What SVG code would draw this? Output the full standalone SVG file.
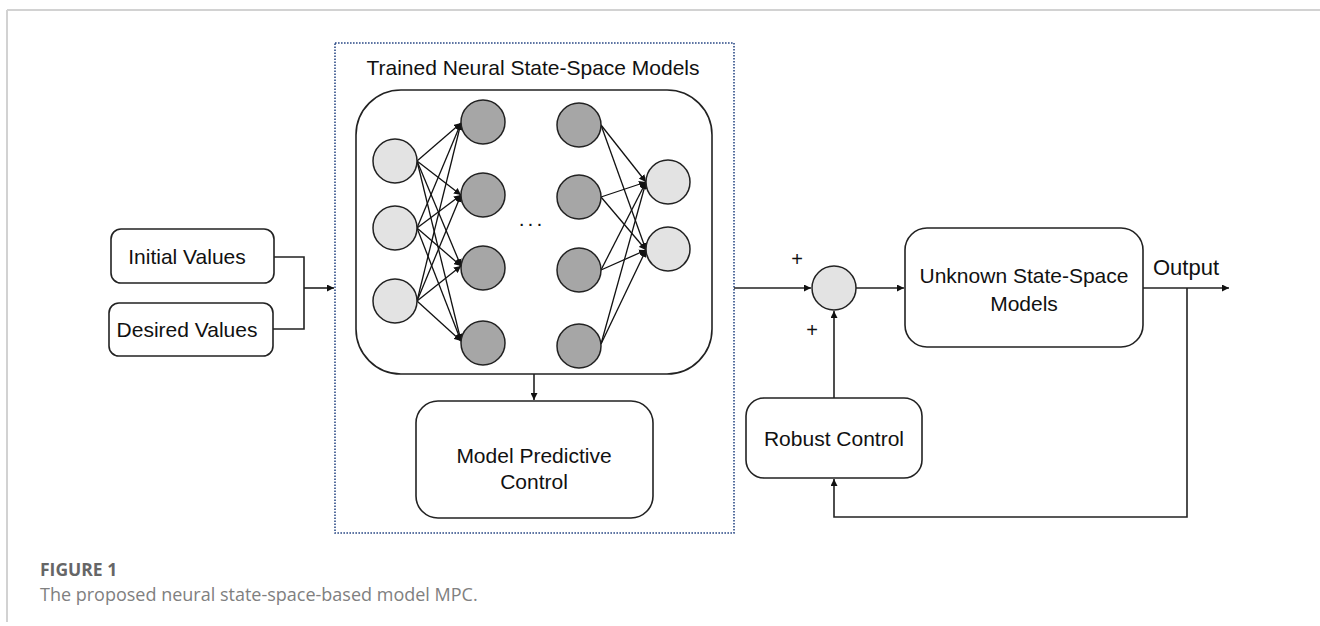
<svg xmlns="http://www.w3.org/2000/svg" width="1320" height="626" viewBox="0 0 1320 626">
<style>
.box{fill:#fff;stroke:#222;stroke-width:1.6}
.lbl{font-family:"Liberation Sans",Arial,sans-serif;font-size:21px;fill:#111}
.inp{fill:#e3e3e3;stroke:#222;stroke-width:1.5}
.hid{fill:#a6a6a6;stroke:#222;stroke-width:1.5}
.ln{fill:none;stroke:#222;stroke-width:1.6}
.nn{fill:none;stroke:#111;stroke-width:1.3}
</style>
<defs>
<marker id="ah" viewBox="0 0 10 10" refX="10" refY="5" markerWidth="7" markerHeight="7" markerUnits="userSpaceOnUse" orient="auto"><path d="M0,0 L10,5 L0,10 z" fill="#111"/></marker>
<marker id="as" viewBox="0 0 10 10" refX="10" refY="5" markerWidth="7" markerHeight="7" markerUnits="userSpaceOnUse" orient="auto"><path d="M0,0 L10,5 L0,10 z" fill="#111"/></marker>
</defs>
<rect width="1320" height="626" fill="#fff"/>
<g id="frame">
<line x1="7" y1="10" x2="1320" y2="10" stroke="#d2d2d2" stroke-width="2"/>
<line x1="7" y1="10" x2="7" y2="622" stroke="#d2d2d2" stroke-width="2"/>
</g>
<g id="dashed-group">
<rect x="335" y="43" width="399" height="490" fill="none" stroke="#2b4a86" stroke-width="1.6" stroke-dasharray="1.6 1.4"/>
<text class="lbl" x="533" y="75" text-anchor="middle">Trained Neural State-Space Models</text>
</g>
<g id="nn-box">
<rect class="box" x="356" y="90" width="356" height="284" rx="45"/>
</g>
<g id="nn-edges">
<line class="nn" x1="417" y1="161" x2="461" y2="123" marker-end="url(#as)"/>
<line class="nn" x1="417" y1="161" x2="461" y2="195" marker-end="url(#as)"/>
<line class="nn" x1="417" y1="161" x2="461" y2="266" marker-end="url(#as)"/>
<line class="nn" x1="417" y1="161" x2="461" y2="341" marker-end="url(#as)"/>
<line class="nn" x1="417" y1="228" x2="461" y2="123" marker-end="url(#as)"/>
<line class="nn" x1="417" y1="228" x2="461" y2="195" marker-end="url(#as)"/>
<line class="nn" x1="417" y1="228" x2="461" y2="266" marker-end="url(#as)"/>
<line class="nn" x1="417" y1="228" x2="461" y2="341" marker-end="url(#as)"/>
<line class="nn" x1="417" y1="301" x2="461" y2="123" marker-end="url(#as)"/>
<line class="nn" x1="417" y1="301" x2="461" y2="195" marker-end="url(#as)"/>
<line class="nn" x1="417" y1="301" x2="461" y2="266" marker-end="url(#as)"/>
<line class="nn" x1="417" y1="301" x2="461" y2="341" marker-end="url(#as)"/>
<line class="nn" x1="601" y1="125" x2="646" y2="182" marker-end="url(#as)"/>
<line class="nn" x1="601" y1="125" x2="646" y2="250" marker-end="url(#as)"/>
<line class="nn" x1="601" y1="197" x2="646" y2="182" marker-end="url(#as)"/>
<line class="nn" x1="601" y1="197" x2="646" y2="250" marker-end="url(#as)"/>
<line class="nn" x1="601" y1="270" x2="646" y2="182" marker-end="url(#as)"/>
<line class="nn" x1="601" y1="270" x2="646" y2="250" marker-end="url(#as)"/>
<line class="nn" x1="601" y1="344" x2="646" y2="182" marker-end="url(#as)"/>
<line class="nn" x1="601" y1="344" x2="646" y2="250" marker-end="url(#as)"/>
</g>
<g id="nn-nodes">
<circle class="inp" cx="395" cy="161" r="22"/>
<circle class="inp" cx="395" cy="228" r="22"/>
<circle class="inp" cx="395" cy="301" r="22"/>
<circle class="hid" cx="483" cy="122" r="22"/>
<circle class="hid" cx="483" cy="195" r="22"/>
<circle class="hid" cx="483" cy="268" r="22"/>
<circle class="hid" cx="483" cy="343" r="22"/>
<circle class="hid" cx="579" cy="125" r="22"/>
<circle class="hid" cx="579" cy="197" r="22"/>
<circle class="hid" cx="579" cy="270" r="22"/>
<circle class="hid" cx="579" cy="346" r="22"/>
<circle class="inp" cx="668" cy="182" r="22"/>
<circle class="inp" cx="668" cy="249" r="22"/>
<text class="lbl" x="532" y="226" text-anchor="middle" style="letter-spacing:3px">...</text>
</g>
<g id="initial-values">
<rect class="box" x="111" y="229" width="163" height="54" rx="10"/>
<text class="lbl" x="187" y="264" text-anchor="middle">Initial Values</text>
</g>
<g id="desired-values">
<rect class="box" x="109" y="303" width="164" height="53" rx="10"/>
<text class="lbl" x="187" y="337" text-anchor="middle">Desired Values</text>
</g>
<g id="mpc">
<rect class="box" x="416" y="401" width="237" height="117" rx="22"/>
<text class="lbl" x="534" y="463" text-anchor="middle">Model Predictive</text>
<text class="lbl" x="534" y="489" text-anchor="middle">Control</text>
</g>
<g id="sum">
<circle class="inp" cx="834" cy="288" r="22"/>
<text class="lbl" x="797" y="266" text-anchor="middle" style="font-size:20px">+</text>
<text class="lbl" x="812" y="337" text-anchor="middle" style="font-size:20px">+</text>
</g>
<g id="unknown">
<rect class="box" x="905" y="228" width="238" height="119" rx="22"/>
<text class="lbl" x="1024" y="283" text-anchor="middle">Unknown State-Space</text>
<text class="lbl" x="1024" y="311" text-anchor="middle">Models</text>
</g>
<g id="robust">
<rect class="box" x="746" y="398" width="176" height="80" rx="18"/>
<text class="lbl" x="834" y="446" text-anchor="middle">Robust Control</text>
</g>
<g id="connectors">
<polyline class="ln" points="274,257 304,257 304,329 273,329"/>
<line class="ln" x1="304" y1="288" x2="334" y2="288" marker-end="url(#ah)"/>
<line class="ln" x1="534" y1="374" x2="534" y2="400" marker-end="url(#ah)"/>
<line class="ln" x1="734" y1="288" x2="811" y2="288" marker-end="url(#ah)"/>
<line class="ln" x1="856" y1="288" x2="904" y2="288" marker-end="url(#ah)"/>
<line class="ln" x1="1143" y1="288" x2="1229" y2="288" marker-end="url(#ah)"/>
<polyline class="ln" points="1187,288 1187,517 834,517 834,479" marker-end="url(#ah)"/>
<line class="ln" x1="834" y1="398" x2="834" y2="311" marker-end="url(#ah)"/>
</g>
<g id="output-label">
<text class="lbl" x="1153" y="275" style="font-size:22px">Output</text>
</g>
<g id="caption">
<text x="40" y="576" style="font-family:'Open Sans',sans-serif;font-weight:bold;font-size:17.5px;fill:#666">FIGURE 1</text>
<text x="40" y="601" style="font-family:'Open Sans',sans-serif;font-size:18px;fill:#808080">The proposed neural state-space-based model MPC.</text>
</g>
</svg>
